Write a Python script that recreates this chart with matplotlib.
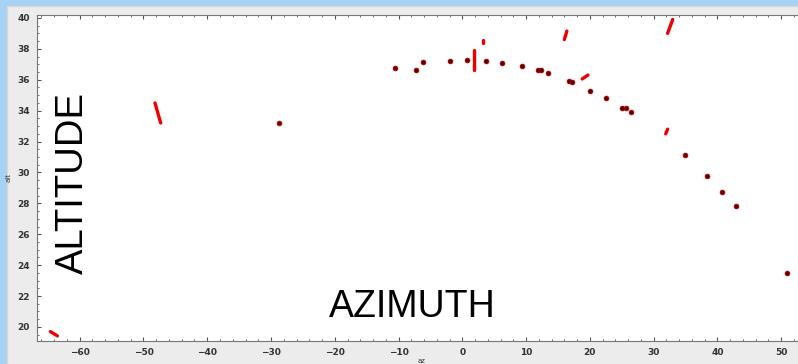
import numpy as np
import matplotlib.pyplot as plt
from matplotlib.patches import Rectangle
from matplotlib.ticker import MultipleLocator

# single-exposure positions (az, alt in degrees)
dot_az = [-28.8, -10.5, -7.2, -6.1, -1.9, 0.8, 3.75, 6.3, 9.4, 11.9, 12.4, 13.5,
          16.7, 17.2, 20.0, 22.5, 25.0, 25.7, 26.4, 34.9, 38.3, 40.7, 42.9, 51.0]
dot_alt = [33.2, 36.76, 36.6, 37.15, 37.2, 37.3, 37.2, 37.1, 36.9, 36.6, 36.6, 36.45,
           35.9, 35.85, 35.3, 34.8, 34.2, 34.2, 33.9, 31.1, 29.8, 28.75, 27.8, 23.5]

# trails: start and end of each track
trail_az0 = [-64.6, -48.2, 1.9, 3.3, 16.0, 18.8, 31.9, 32.2]
trail_az1 = [-63.5, -47.3, 1.9, 3.3, 16.4, 19.7, 32.2, 33.0]
trail_alt0 = [19.7, 34.5, 37.9, 38.55, 38.6, 36.05, 32.5, 39.0]
trail_alt1 = [19.42, 33.2, 36.6, 38.35, 39.15, 36.3, 32.8, 39.9]

fig = plt.figure(figsize=(7.98, 3.64), dpi=100)
fig.patch.set_facecolor('#a6d3f4')

# window panel behind the plot
fig.patches.append(Rectangle((7 / 798, -0.01), 1, 1 - 6 / 364 + 0.01, transform=fig.transFigure,
                             facecolor='#ececec', edgecolor='#d8d8d8', lw=1, zorder=-10))

ax = fig.add_axes([37 / 798, 1 - 341 / 364, 1 - 37 / 798 + 0.01, (341 - 15) / 364])
ax.set_zorder(5)
ax.set_facecolor('white')

for x0, x1, y0, y1 in zip(trail_az0, trail_az1, trail_alt0, trail_alt1):
    ax.plot([x0, x1], [y0, y1], color='#ee0000', lw=2.4, solid_capstyle='round', zorder=3)

ax.plot(dot_az, dot_alt, 'o', ms=3.4, mfc='#5a0000', mec='#b00000', mew=0.6, zorder=4)

ax.set_xlim(-66.7, 53.9)
ax.set_ylim(19.09, 40.19)
ax.xaxis.set_major_locator(MultipleLocator(10))
ax.xaxis.set_minor_locator(MultipleLocator(2))
ax.yaxis.set_major_locator(MultipleLocator(2))
ax.yaxis.set_minor_locator(MultipleLocator(0.5))
ax.tick_params(which='both', direction='in', top=True, right=False, color='#555555',
               labelsize=6.5, labelcolor='#333333', pad=5)
ax.tick_params(which='major', length=3, width=0.8)
ax.tick_params(which='minor', length=1.5, width=0.6)
for lab in ax.get_xticklabels() + ax.get_yticklabels():
    lab.set_fontweight('bold')
for side in ['left', 'bottom', 'top']:
    ax.spines[side].set_color('#777777')
    ax.spines[side].set_linewidth(0.8)
ax.spines['right'].set_visible(False)

ax.set_xlabel('az', fontsize=5, color='#333333', labelpad=0.5)
ax.set_ylabel('alt', fontsize=5, color='#333333', labelpad=4)

ax.text(73 / 798, 1 - 183 / 364, 'ALTITUDE', transform=fig.transFigure, rotation=90,
        ha='center', va='center', fontsize=27.5, family='Liberation Sans', color='black')
ax.text(412 / 798, 1 - 307 / 364, 'AZIMUTH', transform=fig.transFigure,
        ha='center', va='center', fontsize=27, family='Liberation Sans', color='black')

fig.savefig('out.png', dpi=100, facecolor=fig.get_facecolor())
